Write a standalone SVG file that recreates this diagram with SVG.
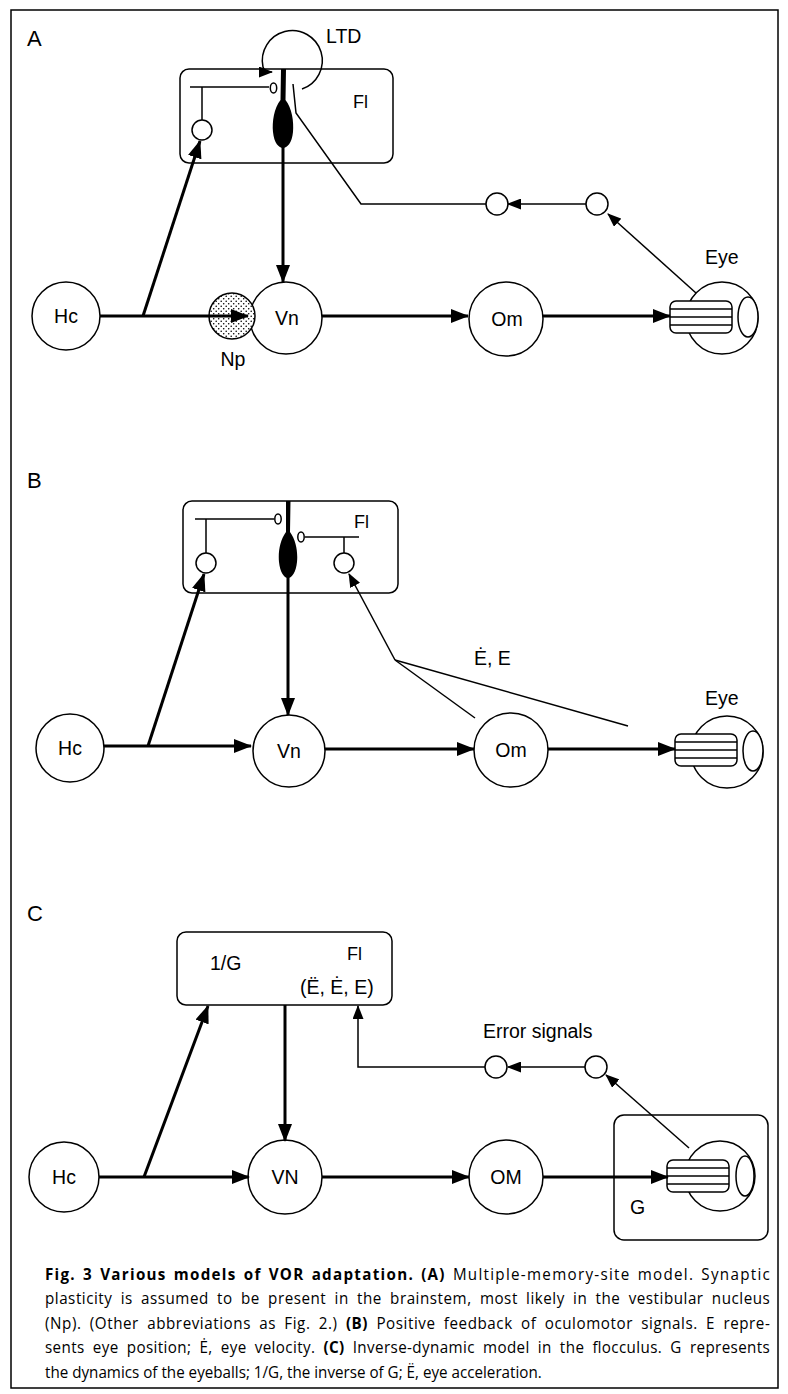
<svg xmlns="http://www.w3.org/2000/svg" width="788" height="1394" viewBox="0 0 788 1394">
  <style>
    .lbl { font-family: "Liberation Sans", Arial, sans-serif; font-size: 19.5px; fill: #000; }
    .fl { font-family: "Liberation Sans", Arial, sans-serif; font-size: 18px; fill: #000; }
    .pl { font-family: "Liberation Sans", Arial, sans-serif; font-size: 22px; fill: #000; }
    .cap { font-family: "Open Sans", "Noto Sans", sans-serif; font-size: 16px; fill: #000; word-spacing: 4px; }
    .b { font-weight: bold; }
    .node { fill: #fff; stroke: #000; stroke-width: 1.5; }
    .thin { fill: none; stroke: #000; stroke-width: 1.5; }
    .thick { fill: none; stroke: #000; stroke-width: 3; }
    .fill { fill: #000; stroke: none; }
    .frame { fill: #fff; stroke: #000; stroke-width: 1.5; }
  </style>
  <defs>
    <marker id="ah" markerUnits="userSpaceOnUse" markerWidth="18" markerHeight="14" viewBox="0 0 18 14" refX="17" refY="7" orient="auto">
      <path d="M0,0 L18,7 L0,14 z" fill="#000"/>
    </marker>
    <marker id="ahs" markerUnits="userSpaceOnUse" markerWidth="14" markerHeight="11" viewBox="0 0 14 11" refX="13" refY="5.5" orient="auto">
      <path d="M0,0 L14,5.5 L0,11 z" fill="#000"/>
    </marker>
    <pattern id="stipple" patternUnits="userSpaceOnUse" width="5" height="5">
      <rect width="5" height="5" fill="#fff"/>
      <circle cx="1.2" cy="1.2" r="0.8" fill="#000"/>
      <circle cx="3.7" cy="3.7" r="0.8" fill="#000"/>
    </pattern>
  </defs>

  <!-- figure frame -->
  <rect class="frame" x="11" y="10" width="767" height="1378"/>

  <!-- ===================== Panel A ===================== -->
  <text class="pl" x="27" y="46">A</text>

  <g id="A-Fl">
    <rect class="node" x="180" y="69" width="213" height="94" rx="9"/>
    <text class="fl" x="353" y="108">Fl</text>
    <line class="thin" x1="190" y1="87" x2="269" y2="87"/>
    <ellipse class="thin" cx="273.5" cy="88" rx="3.2" ry="5"/>
    <line class="thin" x1="202" y1="87" x2="202" y2="120"/>
    <circle class="node" cx="202" cy="130" r="10"/>
    <path class="fill" d="M281,69 L286,69 L285.5,100 C292,108 294,122 293,132 C292,143 287,148 283,148 C279,148 274,143 273,132 C272,122 274,108 280.5,100 Z"/>
  </g>
  <g id="A-LTD">
    <path class="thin" d="M302,89 A30,30 0 1 0 263,67 Q264,72 272,72" marker-end="url(#ahs)"/>
    <text class="lbl" x="326" y="43">LTD</text>
  </g>
  <g id="A-Hc">
    <circle class="node" cx="66" cy="316" r="34"/>
    <text class="lbl" x="66" y="323" text-anchor="middle">Hc</text>
  </g>
  <g id="A-Vn">
    <circle class="node" cx="286" cy="318" r="36"/>
    <text class="lbl" x="287" y="325" text-anchor="middle">Vn</text>
  </g>
  <g id="A-Np">
    <circle cx="232" cy="316" r="23" fill="url(#stipple)" stroke="#000" stroke-width="1.5"/>
    <text class="lbl" x="233" y="366" text-anchor="middle">Np</text>
  </g>
  <g id="A-Om">
    <circle class="node" cx="506" cy="319" r="37"/>
    <text class="lbl" x="507" y="326" text-anchor="middle">Om</text>
  </g>
  <g id="A-Eye">
    <circle class="node" cx="722" cy="318" r="36"/>
    <ellipse class="node" cx="748" cy="317" rx="10" ry="20"/>
    <rect class="node" x="670" y="301" width="62" height="32" rx="6"/>
    <line class="thin" x1="670" y1="309" x2="732" y2="309"/>
    <line class="thin" x1="670" y1="317" x2="732" y2="317"/>
    <line class="thin" x1="670" y1="325" x2="732" y2="325"/>
    <text class="lbl" x="705" y="264">Eye</text>
  </g>
  <g id="A-relay1"><circle class="node" cx="497" cy="204" r="11"/></g>
  <g id="A-relay2"><circle class="node" cx="597" cy="204" r="11"/></g>

  <g id="A-connectors">
    <line class="thick" x1="100" y1="316" x2="248" y2="316" marker-end="url(#ah)"/>
    <line class="thick" x1="143" y1="316" x2="200" y2="141" marker-end="url(#ah)"/>
    <line class="thick" x1="283" y1="147" x2="283" y2="282" marker-end="url(#ah)"/>
    <line class="thick" x1="322" y1="316" x2="468" y2="316" marker-end="url(#ah)"/>
    <line class="thick" x1="543" y1="316" x2="670" y2="316" marker-end="url(#ah)"/>
    <polyline class="thin" points="293,84 296,113 361,204 486,204"/>
    <line class="thin" x1="586" y1="204" x2="508" y2="204" marker-end="url(#ahs)"/>
    <line class="thin" x1="696" y1="293" x2="608" y2="214" marker-end="url(#ahs)"/>
  </g>

  <!-- ===================== Panel B ===================== -->
  <text class="pl" x="27" y="488">B</text>

  <g id="B-Fl">
    <rect class="node" x="183" y="501" width="215" height="92" rx="9"/>
    <text class="fl" x="354" y="528">Fl</text>
    <line class="thin" x1="195" y1="519" x2="274" y2="519"/>
    <ellipse class="thin" cx="278" cy="519" rx="3.2" ry="5"/>
    <line class="thin" x1="206" y1="519" x2="206" y2="553"/>
    <circle class="node" cx="206" cy="563" r="10"/>
    <ellipse class="thin" cx="301" cy="537" rx="3.2" ry="5"/>
    <line class="thin" x1="305" y1="537" x2="359" y2="537"/>
    <line class="thin" x1="344" y1="537" x2="344" y2="553"/>
    <circle class="node" cx="344" cy="563" r="10"/>
    <path class="fill" d="M286,501 L290.5,501 L290,532 C296,540 298,552 297,562 C296,572 292,578 288,578 C284,578 280,572 279,562 C278,552 280,540 286,532 Z"/>
  </g>
  <g id="B-Hc">
    <circle class="node" cx="70" cy="748" r="34"/>
    <text class="lbl" x="70" y="755" text-anchor="middle">Hc</text>
  </g>
  <g id="B-Vn">
    <circle class="node" cx="289" cy="751" r="36"/>
    <text class="lbl" x="289" y="758" text-anchor="middle">Vn</text>
  </g>
  <g id="B-Om">
    <circle class="node" cx="511" cy="750" r="37"/>
    <text class="lbl" x="511" y="757" text-anchor="middle">Om</text>
  </g>
  <g id="B-Eye">
    <circle class="node" cx="727" cy="752" r="36"/>
    <ellipse class="node" cx="753" cy="751" rx="10" ry="20"/>
    <rect class="node" x="675" y="734" width="62" height="32" rx="6"/>
    <line class="thin" x1="675" y1="742" x2="737" y2="742"/>
    <line class="thin" x1="675" y1="750" x2="737" y2="750"/>
    <line class="thin" x1="675" y1="758" x2="737" y2="758"/>
    <text class="lbl" x="705" y="705">Eye</text>
  </g>
  <text class="lbl" x="474" y="665">Ė, E</text>

  <g id="B-connectors">
    <line class="thick" x1="104" y1="746" x2="251" y2="746" marker-end="url(#ah)"/>
    <line class="thick" x1="148" y1="746" x2="204" y2="574" marker-end="url(#ah)"/>
    <line class="thick" x1="288" y1="577" x2="288" y2="715" marker-end="url(#ah)"/>
    <line class="thick" x1="325" y1="749" x2="474" y2="749" marker-end="url(#ah)"/>
    <line class="thick" x1="548" y1="749" x2="675" y2="749" marker-end="url(#ah)"/>
    <line class="thin" x1="475" y1="718" x2="395" y2="660"/>
    <line class="thin" x1="628" y1="726" x2="395" y2="660"/>
    <line class="thin" x1="395" y1="660" x2="349" y2="574" marker-end="url(#ahs)"/>
  </g>

  <!-- ===================== Panel C ===================== -->
  <text class="pl" x="27" y="921">C</text>

  <g id="C-Fl">
    <rect class="node" x="177" y="932" width="215" height="73" rx="9"/>
    <text class="lbl" x="210" y="970">1/G</text>
    <text class="fl" x="347" y="960">Fl</text>
    <text class="lbl" x="300" y="994">(Ë, Ė, E)</text>
  </g>
  <g id="C-Hc">
    <circle class="node" cx="64" cy="1177" r="35"/>
    <text class="lbl" x="64" y="1184" text-anchor="middle">Hc</text>
  </g>
  <g id="C-VN">
    <circle class="node" cx="285" cy="1177" r="37"/>
    <text class="lbl" x="285" y="1184" text-anchor="middle">VN</text>
  </g>
  <g id="C-OM">
    <circle class="node" cx="506" cy="1177" r="37"/>
    <text class="lbl" x="506" y="1184" text-anchor="middle">OM</text>
  </g>
  <g id="C-G">
    <rect class="node" x="614" y="1115" width="154" height="125" rx="10"/>
    <text class="lbl" x="630" y="1214">G</text>
    <circle class="node" cx="720" cy="1176" r="35"/>
    <ellipse class="node" cx="745" cy="1176" rx="9" ry="20"/>
    <rect class="node" x="667" y="1160" width="62" height="32" rx="6"/>
    <line class="thin" x1="667" y1="1168" x2="729" y2="1168"/>
    <line class="thin" x1="667" y1="1176" x2="729" y2="1176"/>
    <line class="thin" x1="667" y1="1184" x2="729" y2="1184"/>
  </g>
  <g id="C-relay1"><circle class="node" cx="496" cy="1067" r="11"/></g>
  <g id="C-relay2"><circle class="node" cx="596" cy="1067" r="11"/></g>
  <text class="lbl" x="483" y="1038">Error signals</text>

  <g id="C-connectors">
    <line class="thick" x1="99" y1="1177" x2="249" y2="1177" marker-end="url(#ah)"/>
    <line class="thick" x1="144" y1="1177" x2="208" y2="1006" marker-end="url(#ah)"/>
    <line class="thick" x1="285" y1="1005" x2="285" y2="1141" marker-end="url(#ah)"/>
    <line class="thick" x1="322" y1="1177" x2="469" y2="1177" marker-end="url(#ah)"/>
    <line class="thick" x1="543" y1="1177" x2="668" y2="1177" marker-end="url(#ah)"/>
    <line class="thin" x1="689" y1="1148" x2="606" y2="1075" marker-end="url(#ahs)"/>
    <line class="thin" x1="585" y1="1067" x2="508" y2="1067" marker-end="url(#ahs)"/>
    <polyline class="thin" points="485,1067 358,1067 358,1006" marker-end="url(#ahs)"/>
  </g>

  <!-- caption: slightly condensed by a horizontal scale, full lines justified to the column width -->
  <g id="caption" transform="translate(45,0) scale(0.95,1)">
    <text class="cap" x="0" y="1280" textLength="763" lengthAdjust="spacing" style="word-spacing:2px"><tspan class="b">Fig. 3 Various models of VOR adaptation. (A)</tspan> Multiple-memory-site model. Synaptic</text>
    <text class="cap" x="0" y="1304.5" textLength="763" lengthAdjust="spacing">plasticity is assumed to be present in the brainstem, most likely in the vestibular nucleus</text>
    <text class="cap" x="0" y="1329" textLength="763" lengthAdjust="spacing">(Np). (Other abbreviations as Fig. 2.) <tspan class="b">(B)</tspan> Positive feedback of oculomotor signals. E repre-</text>
    <text class="cap" x="0" y="1353.5" textLength="763" lengthAdjust="spacing">sents eye position; Ė, eye velocity. <tspan class="b">(C)</tspan> Inverse-dynamic model in the flocculus. G represents</text>
    <text class="cap" x="0" y="1378" style="word-spacing:0">the dynamics of the eyeballs; 1/G, the inverse of G; Ë, eye acceleration.</text>
  </g>
</svg>
